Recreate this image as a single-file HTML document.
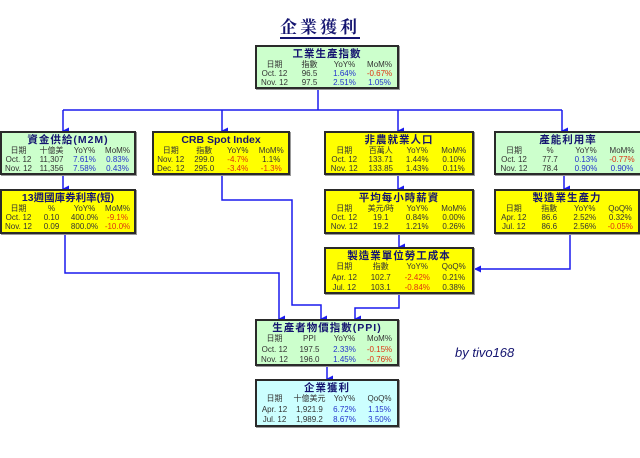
<!DOCTYPE html>
<html><head><meta charset="utf-8"><style>
body{margin:0;width:640px;height:458px;background:#fff;position:relative;overflow:hidden;font-family:"Liberation Sans","Noto Sans CJK TC",sans-serif}
.t{position:absolute;left:0;width:640px;top:13px;text-align:center;font:bold 17px "Liberation Serif","Noto Serif CJK SC",serif;color:#141470}
.t span{border-bottom:2px solid #141470;letter-spacing:3px}
.b{position:absolute;box-sizing:border-box;border:2px solid #2a2a2a;box-shadow:1px 1px 0 #999;overflow:hidden}
.g{background:#ccffcc}.y{background:#ffff00}.c{background:#ccffff}
.h{text-align:center;font-weight:bold;font-size:10.5px;color:#141470;line-height:12px;margin-top:1px;letter-spacing:1px;white-space:nowrap}
table{width:100%;border-collapse:collapse;font-size:8px;color:#333;line-height:9px;table-layout:fixed}
td{text-align:center;padding:0;white-space:nowrap}
td:first-child{padding-left:0}
.u{color:#2233cc}.r{color:#dd3311}
svg{position:absolute;left:0;top:0}
.by{position:absolute;left:455px;top:345px;font:italic 13px "Liberation Sans",sans-serif;color:#141470}
</style></head><body>
<div class="t"><span>企業獲利</span></div>
<svg width="640" height="458">
<defs><marker id="a" markerWidth="7" markerHeight="7" refX="3.5" refY="6" orient="auto" markerUnits="userSpaceOnUse"><path d="M0,0 L7,0 L3.5,7z" fill="#1a1aee"/></marker>
<marker id="l" markerWidth="7" markerHeight="7" refX="1" refY="3.5" markerUnits="userSpaceOnUse"><path d="M7,0 L7,7 L0,3.5z" fill="#1a1aee"/></marker></defs>
<g stroke="#1a1aee" stroke-width="1.5" fill="none">
<path d="M318 88V110"/><path d="M63 110H562"/>
<path d="M63 110V131" marker-end="url(#a)"/><path d="M222 110V131" marker-end="url(#a)"/>
<path d="M398 110V131" marker-end="url(#a)"/><path d="M562 110V131" marker-end="url(#a)"/>
<path d="M63 174V189" marker-end="url(#a)"/><path d="M398 174V189" marker-end="url(#a)"/><path d="M564 174V189" marker-end="url(#a)"/>
<path d="M399 233V247" marker-end="url(#a)"/>
<path d="M570 233V269H475" marker-end="url(#l)"/>
<path d="M65 233V273H279V319" marker-end="url(#a)"/>
<path d="M222 174V200H292V305H321V319" marker-end="url(#a)"/>
<path d="M399 293V308H355V319" marker-end="url(#a)"/>
<path d="M327 365V379" marker-end="url(#a)"/>
</g></svg>

<div class="b g" style="left:255px;top:45px;width:144px;height:44px"><div class="h">工業生產指數</div><table>
<tr><td>日期</td><td>指數</td><td>YoY%</td><td>MoM%</td></tr>
<tr><td>Oct. 12</td><td>96.5</td><td class="u">1.64%</td><td class="r">-0.67%</td></tr>
<tr><td>Nov. 12</td><td>97.5</td><td class="u">2.51%</td><td class="u">1.05%</td></tr></table></div>

<div class="b g" style="left:0;top:131px;width:136px;height:44px"><div class="h">資金供給(M2M)</div><table>
<tr><td>日期</td><td>十億美</td><td>YoY%</td><td>MoM%</td></tr>
<tr><td>Oct. 12</td><td>11,307</td><td class="u">7.61%</td><td class="u">0.83%</td></tr>
<tr><td>Nov. 12</td><td>11,356</td><td class="u">7.58%</td><td class="u">0.43%</td></tr></table></div>

<div class="b y" style="left:152px;top:131px;width:138px;height:44px"><div class="h" style="letter-spacing:0">CRB Spot Index</div><table>
<tr><td>日期</td><td>指數</td><td>YoY%</td><td>MoM%</td></tr>
<tr><td>Nov. 12</td><td>299.0</td><td class="r">-4.7%</td><td>1.1%</td></tr>
<tr><td>Dec. 12</td><td>295.0</td><td class="r">-3.4%</td><td class="r">-1.3%</td></tr></table></div>

<div class="b y" style="left:324px;top:131px;width:150px;height:44px"><div class="h">非農就業人口</div><table>
<tr><td>日期</td><td>百萬人</td><td>YoY%</td><td>MoM%</td></tr>
<tr><td>Oct. 12</td><td>133.71</td><td>1.44%</td><td>0.10%</td></tr>
<tr><td>Nov. 12</td><td>133.85</td><td>1.43%</td><td>0.11%</td></tr></table></div>

<div class="b g" style="left:494px;top:131px;width:148px;height:44px"><div class="h">產能利用率</div><table>
<tr><td>日期</td><td>%</td><td>YoY%</td><td>MoM%</td></tr>
<tr><td>Oct. 12</td><td>77.7</td><td class="u">0.13%</td><td class="r">-0.77%</td></tr>
<tr><td>Nov. 12</td><td>78.4</td><td class="u">0.90%</td><td class="u">0.90%</td></tr></table></div>

<div class="b y" style="left:0;top:189px;width:136px;height:45px"><div class="h" style="letter-spacing:0">13週國庫券利率(短)</div><table>
<tr><td>日期</td><td>%</td><td>YoY%</td><td>MoM%</td></tr>
<tr><td>Oct. 12</td><td>0.10</td><td>400.0%</td><td class="r">-9.1%</td></tr>
<tr><td>Nov. 12</td><td>0.09</td><td>800.0%</td><td class="r">-10.0%</td></tr></table></div>

<div class="b y" style="left:324px;top:189px;width:150px;height:45px"><div class="h">平均每小時薪資</div><table>
<tr><td>日期</td><td>美元/時</td><td>YoY%</td><td>MoM%</td></tr>
<tr><td>Oct. 12</td><td>19.1</td><td>0.84%</td><td>0.00%</td></tr>
<tr><td>Nov. 12</td><td>19.2</td><td>1.21%</td><td>0.26%</td></tr></table></div>

<div class="b y" style="left:494px;top:189px;width:146px;height:45px"><div class="h">製造業生產力</div><table>
<tr><td>日期</td><td>指數</td><td>YoY%</td><td>QoQ%</td></tr>
<tr><td>Apr. 12</td><td>86.6</td><td>2.52%</td><td>0.32%</td></tr>
<tr><td>Jul. 12</td><td>86.6</td><td>2.56%</td><td class="r">-0.05%</td></tr></table></div>

<div class="b y" style="left:324px;top:247px;width:150px;height:47px"><div class="h">製造業單位勞工成本</div><table style="line-height:10.5px">
<tr><td>日期</td><td>指數</td><td>YoY%</td><td>QoQ%</td></tr>
<tr><td>Apr. 12</td><td>102.7</td><td class="r">-2.42%</td><td>0.21%</td></tr>
<tr><td>Jul. 12</td><td>103.1</td><td class="r">-0.84%</td><td>0.38%</td></tr></table></div>

<div class="b g" style="left:255px;top:319px;width:144px;height:47px"><div class="h">生產者物價指數(PPI)</div><table style="line-height:10.5px">
<tr><td>日期</td><td>PPI</td><td>YoY%</td><td>MoM%</td></tr>
<tr><td>Oct. 12</td><td>197.5</td><td class="u">2.33%</td><td class="r">-0.15%</td></tr>
<tr><td>Nov. 12</td><td>196.0</td><td class="u">1.45%</td><td class="r">-0.76%</td></tr></table></div>

<div class="b c" style="left:255px;top:379px;width:144px;height:48px"><div class="h">企業獲利</div><table style="line-height:10.5px">
<tr><td>日期</td><td>十億美元</td><td>YoY%</td><td>QoQ%</td></tr>
<tr><td>Apr. 12</td><td>1,921.9</td><td class="u">6.72%</td><td class="u">1.15%</td></tr>
<tr><td>Jul. 12</td><td>1,989.2</td><td class="u">8.67%</td><td class="u">3.50%</td></tr></table></div>

<div class="by">by tivo168</div>
</body></html>
